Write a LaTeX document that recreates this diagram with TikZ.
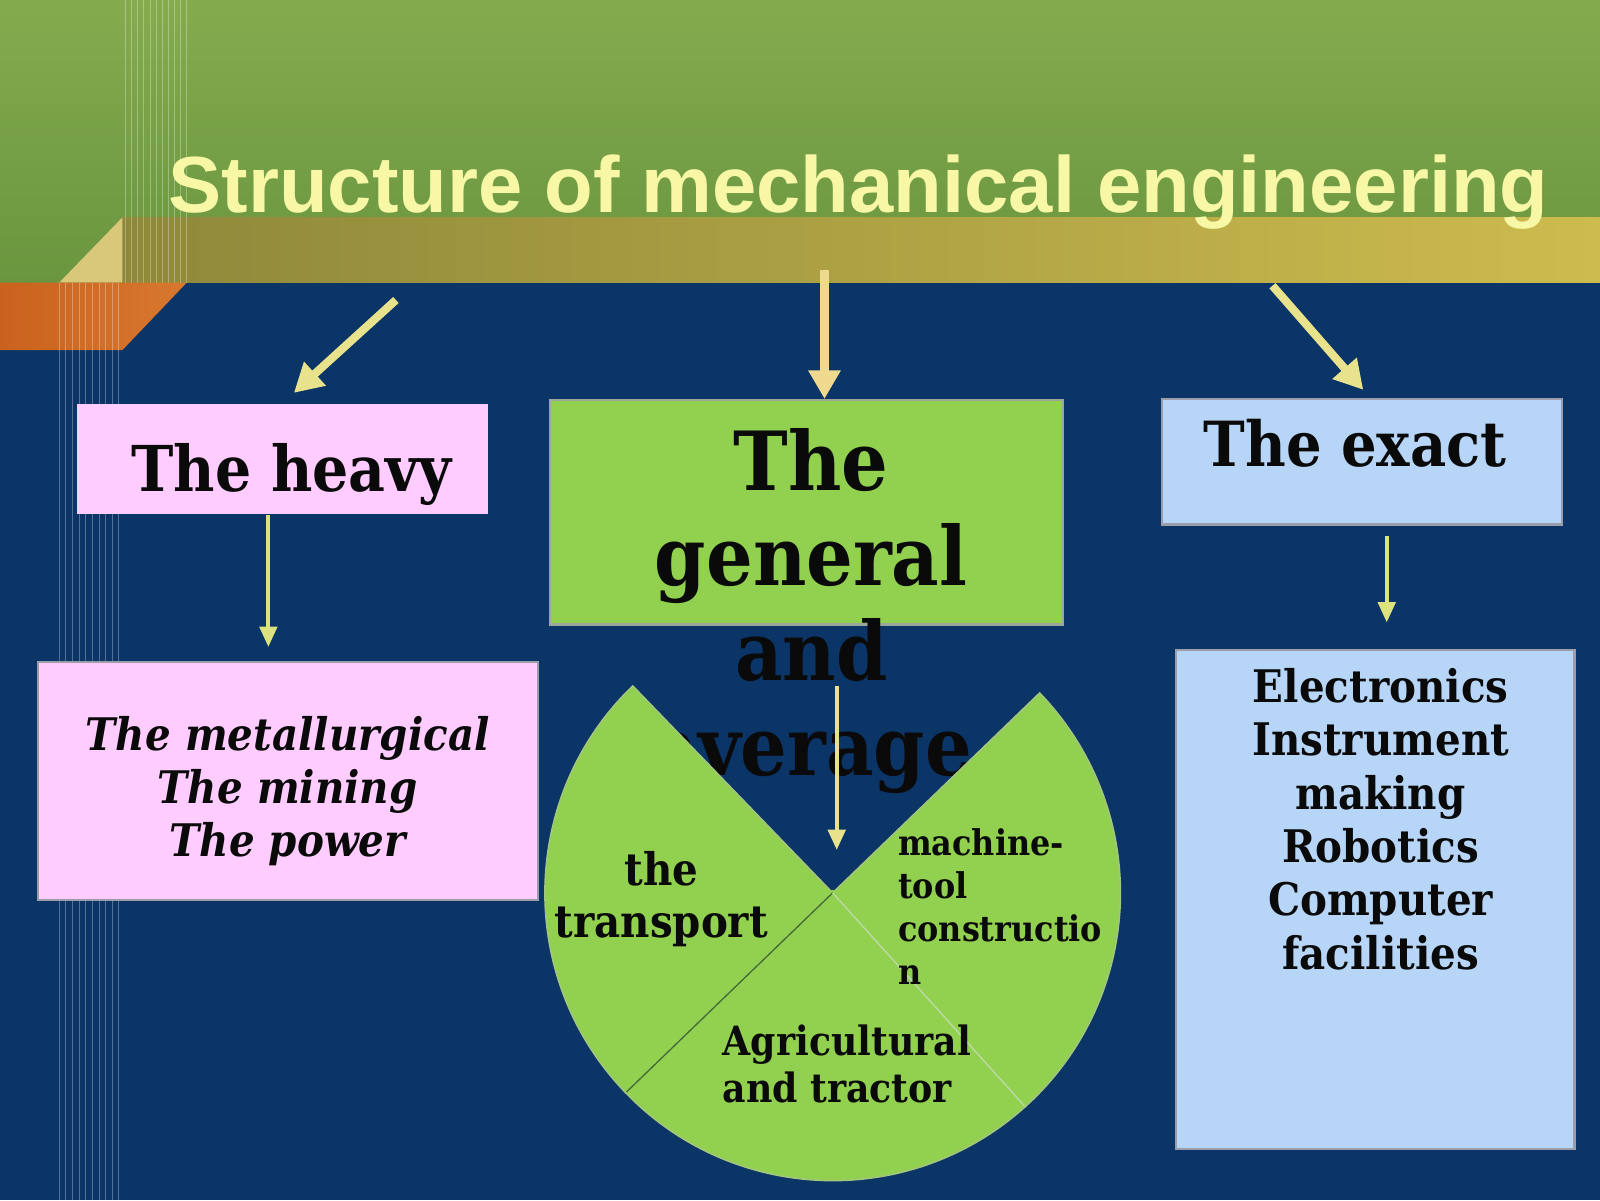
\documentclass[tikz,border=0pt]{standalone}
\usepackage{fontspec}
\setmainfont{DejaVu Serif}[FakeStretch=0.9]
\newfontfamily\titlefont{Liberation Sans}
\usetikzlibrary{arrows.meta}
\definecolor{navy}{HTML}{0B3467}
\definecolor{pinkbox}{HTML}{FFCCFF}
\definecolor{greenbox}{HTML}{92D050}
\definecolor{bluebox}{HTML}{B7D5F7}
\definecolor{arrowyel}{HTML}{E9E28C}
\definecolor{arrowpeach}{HTML}{EFD98F}
\definecolor{arrowgrn}{HTML}{DCE37E}
\definecolor{titleyel}{HTML}{F7F7A6}
\definecolor{bandtop}{HTML}{84AB4E}
\definecolor{bandbot}{HTML}{6A963F}
\definecolor{oliveL}{HTML}{8E883A}
\definecolor{oliveR}{HTML}{CDBB4E}
\definecolor{orangeL}{HTML}{C9621E}
\definecolor{orangeR}{HTML}{D8782E}
\definecolor{beige}{HTML}{D9C879}
\definecolor{boxedge}{HTML}{9C9CAA}
\definecolor{pieedge}{HTML}{A2C67E}
\definecolor{piedark}{HTML}{3F6F2A}
\definecolor{pielight}{HTML}{BADD9C}
\definecolor{ink}{HTML}{0A0A0A}
\begin{document}
\begin{tikzpicture}[x=1pt,y=-1pt,
  boxstyle/.style={draw=boxedge, line width=2pt, inner sep=0pt, minimum width=#1},
  txt/.style={inner sep=0pt, text=ink, align=center},
  bigarrow/.style={draw=arrowyel, line width=8pt, -{Triangle[width=30pt,length=28pt]}},
  smallarrow/.style={draw=arrowgrn, line width=4pt, -{Triangle[width=17pt,length=20pt]}},
  stripe/.style={draw=white, opacity=0.3, line width=0.8pt}
]
\useasboundingbox (0,0) rectangle (1568,1176);
% background
\fill[navy] (0,0) rectangle (1568,1176);
\shade[top color=bandtop, bottom color=bandbot] (0,0) rectangle (1568,277);
\shade[left color=oliveL, right color=oliveR] (120,213) rectangle (1568,277);
\fill[beige] (58,277) -- (120,213) -- (120,277) -- cycle;
\shade[left color=orangeL, right color=orangeR] (0,277) -- (183,277) -- (120,343) -- (0,343) -- cycle;
\foreach \x in {123,129,...,183} \draw[stripe] (\x,0) -- (\x,277);
\foreach \x in {58,64.5,...,118} \draw[stripe] (\x,277) -- (\x,1176);
% title
\node[inner sep=0pt, anchor=base west, text=titleyel, font=\titlefont\bfseries\fontsize{78}{90}\selectfont] (title) at (165,208) {Structure of mechanical engineering};
% boxes
\node[boxstyle=403pt, fill=pinkbox, draw=none, minimum height=108pt] (heavy) at (276.5,450) {};
\node[boxstyle=490pt, fill=pinkbox, minimum height=233pt] (heavysub) at (282,765.5) {};
\node[boxstyle=503pt, fill=greenbox, draw=boxedge!80!greenbox, minimum height=220pt] (gen) at (790.5,502) {};
\node[boxstyle=392pt, fill=bluebox, minimum height=123pt] (exact) at (1335,452.5) {};
\node[boxstyle=391pt, fill=bluebox, minimum height=489pt] (exactsub) at (1347.5,881.5) {};
% box texts
\node[txt, anchor=base, font=\bfseries\fontsize{62}{70}\selectfont] (heavytxt) at (286,482) {The heavy};
\node[txt, anchor=base, font=\bfseries\fontsize{61}{70}\selectfont] (exacttxt) at (1328,457) {The exact};
\node[txt, anchor=north, font=\bfseries\itshape\fontsize{44}{52}\selectfont] (heavysubtxt) at (282,702) {The metallurgical\\The mining\\The power};
\node[txt, anchor=north, font=\bfseries\fontsize{44}{52.2}\selectfont] (exactsubtxt) at (1353,655) {Electronics\\Instrument\\making\\Robotics\\Computer\\facilities};
\node[txt, anchor=north, font=\bfseries\fontsize{80}{93}\selectfont] (gentxt) at (795,420) {The\\general\\and\\average};
% pie
\begin{scope}[shift={(816,875)}, x=1pt, y=1pt]
  \coordinate (pc) at (0,0);
  \filldraw[fill=greenbox, draw=pieedge, line width=1.5pt] (pc) -- (134:282) arc[start angle=134, end angle=224, radius=282] -- cycle;
  \filldraw[fill=greenbox, draw=pieedge, line width=1.5pt] (pc) -- (224:282) arc[start angle=224, end angle=312, radius=282] -- cycle;
  \filldraw[fill=greenbox, draw=pieedge, line width=1.5pt] (pc) -- (312:282) arc[start angle=312, end angle=404, radius=282] -- cycle;
  \fill[greenbox] (pc) circle (3);
  \draw[piedark, line width=1.3pt] (pc) -- (224:281);
  \draw[pielight, line width=1.3pt] (pc) -- (312:281);
\end{scope}
% pie labels
\node[txt, anchor=north, font=\bfseries\fontsize{44}{51}\selectfont] (transport) at (648,834) {the\\transport};
\node[txt, anchor=north west, align=left, font=\bfseries\fontsize{34.7}{42}\selectfont] (machine) at (880,812) {machine-\\tool\\constructio\\n};
\node[txt, anchor=north west, align=left, font=\bfseries\fontsize{39.5}{46}\selectfont] (agri) at (708,1004) {Agricultural\\and tractor};
% arrows
\coordinate (a1s) at (388,294);
\coordinate (a1e) at (288,385);
\coordinate (a2s) at (808,265);
\coordinate (a3s) at (1247,280);
\coordinate (a3e) at (1336,382);
\coordinate (a6s) at (820,672);
\coordinate (a6e) at (820,833);
\draw[bigarrow] (a1s) -- (a1e);
\draw[bigarrow, draw=arrowpeach] (a2s) -- ([xshift=17.5pt]gen.north);
\draw[bigarrow] (a3s) -- (a3e);
\draw[smallarrow, shorten >=14pt] ([xshift=-13.5pt]heavy.south) -- ([xshift=-19pt]heavysub.north);
\draw[smallarrow, shorten <=10pt, shorten >=26pt] ([xshift=24pt]exact.south) -- ([xshift=11.5pt]exactsub.north);
\draw[smallarrow, draw=arrowyel] (a6s) -- (a6e);
\end{tikzpicture}
\end{document}
